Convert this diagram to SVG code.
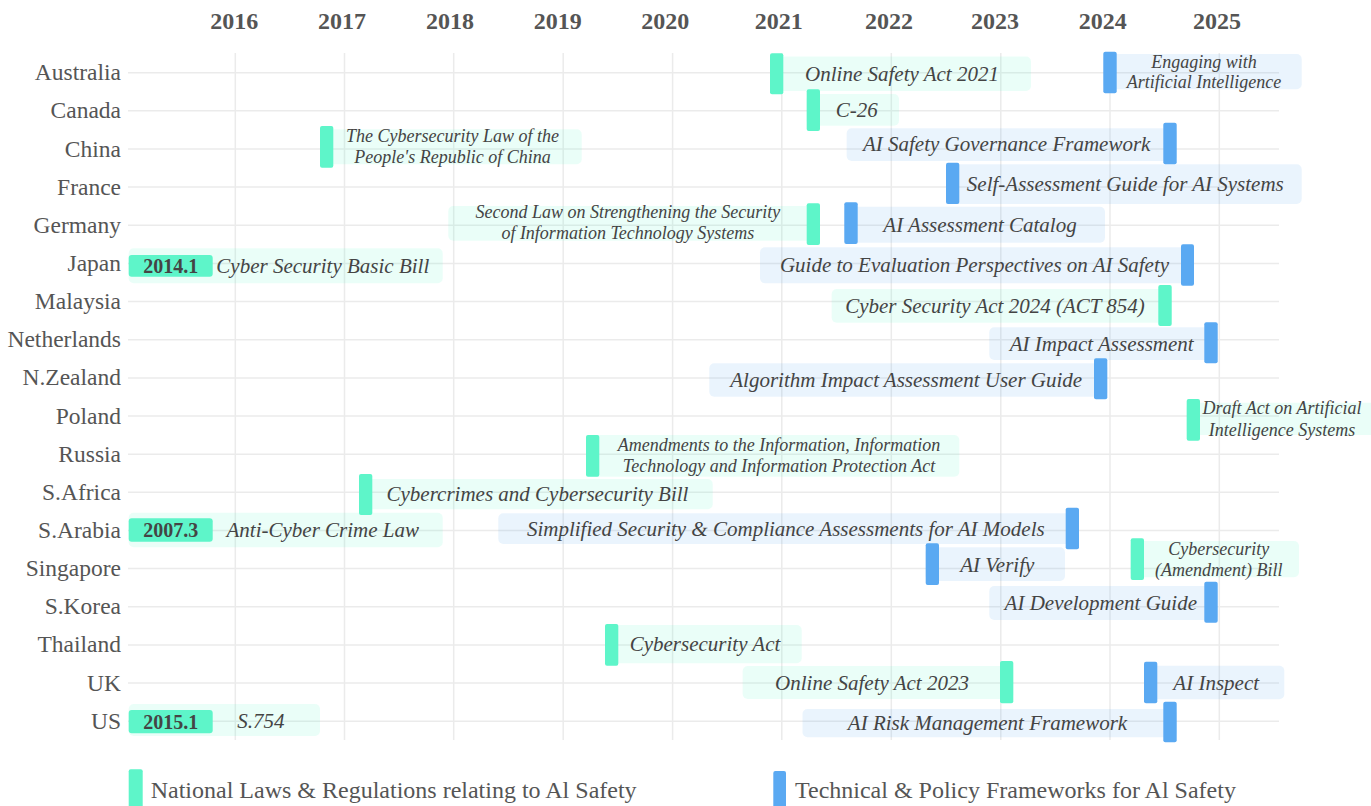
<svg xmlns="http://www.w3.org/2000/svg" width="1371" height="806" viewBox="0 0 1371 806">
<style>
.grid{stroke:#ebebeb;stroke-width:1.5;fill:none}
.gm{fill:#5ef5c9}
.bm{fill:#5aa9f2}
.gb{fill:#5ef5c9;fill-opacity:0.13}
.bb{fill:#5aa9f2;fill-opacity:0.13}
.t{font-family:"Liberation Serif","Times New Roman",serif;font-style:italic;font-size:21px;fill:#444;text-anchor:middle}
.t2{font-size:18px}
.yr{font-family:"Liberation Serif","Times New Roman",serif;font-weight:bold;font-size:24px;fill:#555;text-anchor:middle}
.cn{font-family:"Liberation Serif","Times New Roman",serif;font-size:23.5px;fill:#555;text-anchor:end}
.lb{font-family:"Liberation Serif","Times New Roman",serif;font-weight:bold;font-size:20px;fill:#444;text-anchor:middle}
.lg{font-family:"Liberation Serif","Times New Roman",serif;font-size:24px;fill:#555}
</style>
<rect width="1371" height="806" fill="#ffffff"/>
<g id="grid">
<g class="grid">
<line x1="235.3" y1="53" x2="235.3" y2="740"/>
<line x1="344.5" y1="53" x2="344.5" y2="740"/>
<line x1="453.7" y1="53" x2="453.7" y2="740"/>
<line x1="563.2" y1="53" x2="563.2" y2="740"/>
<line x1="672.6" y1="53" x2="672.6" y2="740"/>
<line x1="781.8" y1="53" x2="781.8" y2="740"/>
<line x1="891.3" y1="53" x2="891.3" y2="740"/>
<line x1="1000.8" y1="53" x2="1000.8" y2="740"/>
<line x1="1110" y1="53" x2="1110" y2="740"/>
<line x1="1219.3" y1="53" x2="1219.3" y2="740"/>
<line x1="128" y1="72.7" x2="1279" y2="72.7"/>
<line x1="128" y1="110.8" x2="1279" y2="110.8"/>
<line x1="128" y1="149" x2="1279" y2="149"/>
<line x1="128" y1="187.1" x2="1279" y2="187.1"/>
<line x1="128" y1="225.3" x2="1279" y2="225.3"/>
<line x1="128" y1="263.4" x2="1279" y2="263.4"/>
<line x1="128" y1="301.6" x2="1279" y2="301.6"/>
<line x1="128" y1="339.7" x2="1279" y2="339.7"/>
<line x1="128" y1="377.9" x2="1279" y2="377.9"/>
<line x1="128" y1="416" x2="1279" y2="416"/>
<line x1="128" y1="454.2" x2="1279" y2="454.2"/>
<line x1="128" y1="492.3" x2="1279" y2="492.3"/>
<line x1="128" y1="530.5" x2="1279" y2="530.5"/>
<line x1="128" y1="568.6" x2="1279" y2="568.6"/>
<line x1="128" y1="606.8" x2="1279" y2="606.8"/>
<line x1="128" y1="644.9" x2="1279" y2="644.9"/>
<line x1="128" y1="683.1" x2="1279" y2="683.1"/>
<line x1="128" y1="721.3" x2="1279" y2="721.3"/>
</g>
</g>
<g id="years">
<text class="yr" x="234.2" y="29">2016</text>
<text class="yr" x="342" y="29">2017</text>
<text class="yr" x="450" y="29">2018</text>
<text class="yr" x="557.7" y="29">2019</text>
<text class="yr" x="665.3" y="29">2020</text>
<text class="yr" x="778.7" y="29">2021</text>
<text class="yr" x="889" y="29">2022</text>
<text class="yr" x="995" y="29">2023</text>
<text class="yr" x="1102.7" y="29">2024</text>
<text class="yr" x="1217" y="29">2025</text>
</g>
<g id="countries">
<text class="cn" x="121" y="80.2">Australia</text>
<text class="cn" x="121" y="118.3">Canada</text>
<text class="cn" x="121" y="156.5">China</text>
<text class="cn" x="121" y="194.6">France</text>
<text class="cn" x="121" y="232.8">Germany</text>
<text class="cn" x="121" y="271">Japan</text>
<text class="cn" x="121" y="309.1">Malaysia</text>
<text class="cn" x="121" y="347.2">Netherlands</text>
<text class="cn" x="121" y="385.4">N.Zealand</text>
<text class="cn" x="121" y="423.5">Poland</text>
<text class="cn" x="121" y="461.7">Russia</text>
<text class="cn" x="121" y="499.8">S.Africa</text>
<text class="cn" x="121" y="538">S.Arabia</text>
<text class="cn" x="121" y="576.1">Singapore</text>
<text class="cn" x="121" y="614.3">S.Korea</text>
<text class="cn" x="121" y="652.4">Thailand</text>
<text class="cn" x="121" y="690.6">UK</text>
<text class="cn" x="121" y="728.8">US</text>
</g>
<g id="australia-law">
<rect class="gb" x="770" y="56.5" width="261" height="34.5" rx="5"/>
<rect class="gm" x="770" y="53.3" width="13.3" height="41" rx="2"/>
<text class="t" x="902" y="80.5">Online Safety Act 2021</text>
</g>
<g id="australia-framework">
<rect class="bb" x="1103.3" y="54" width="198.4" height="35.3" rx="5"/>
<rect class="bm" x="1103.3" y="51.7" width="13.4" height="41.6" rx="2"/>
<text class="t t2" x="1204" y="67.5">Engaging with</text>
<text class="t t2" x="1204" y="88">Artificial Intelligence</text>
</g>
<g id="canada-law">
<rect class="gb" x="806.7" y="94" width="92.3" height="31.7" rx="5"/>
<rect class="gm" x="806.7" y="89.3" width="13.3" height="41.7" rx="2"/>
<text class="t" x="856.7" y="117">C-26</text>
</g>
<g id="china-law">
<rect class="gb" x="320" y="129.3" width="261.7" height="35" rx="5"/>
<rect class="gm" x="320" y="126" width="13.3" height="41.7" rx="2"/>
<text class="t t2" x="452.5" y="142.3">The Cybersecurity Law of the</text>
<text class="t t2" x="452.5" y="163.3">People's Republic of China</text>
</g>
<g id="china-framework">
<rect class="bb" x="846.7" y="128.3" width="330" height="32.7" rx="5"/>
<rect class="bm" x="1163.3" y="122.7" width="13.4" height="41.6" rx="2"/>
<text class="t" x="1006.7" y="151">AI Safety Governance Framework</text>
</g>
<g id="france-framework">
<rect class="bb" x="946" y="164.3" width="355.7" height="39.7" rx="5"/>
<rect class="bm" x="946" y="162.7" width="13.3" height="41.3" rx="2"/>
<text class="t" x="1125.3" y="191">Self-Assessment Guide for AI Systems</text>
</g>
<g id="germany-law">
<rect class="gb" x="448.3" y="206" width="371.7" height="34.7" rx="5"/>
<rect class="gm" x="806.7" y="203.3" width="13.3" height="41.7" rx="2"/>
<text class="t t2" x="627.8" y="218.3">Second Law on Strengthening the Security</text>
<text class="t t2" x="627.8" y="239.3">of Information Technology Systems</text>
</g>
<g id="germany-framework">
<rect class="bb" x="844.3" y="206.7" width="260.7" height="36" rx="5"/>
<rect class="bm" x="844.3" y="202.3" width="13.4" height="41.7" rx="2"/>
<text class="t" x="980" y="231.5">AI Assessment Catalog</text>
</g>
<g id="japan-law">
<rect class="gb" x="128.7" y="248.3" width="314" height="35" rx="5"/>
<rect class="gm" x="128.7" y="255" width="84" height="21.7" rx="3"/>
<text class="lb" x="170.7" y="272.5">2014.1</text>
<text class="t" x="322.8" y="272.5">Cyber Security Basic Bill</text>
</g>
<g id="japan-framework">
<rect class="bb" x="760" y="247.3" width="434" height="36" rx="5"/>
<rect class="bm" x="1181" y="244.3" width="13" height="41.4" rx="2"/>
<text class="t" x="974.5" y="272.3">Guide to Evaluation Perspectives on AI Safety</text>
</g>
<g id="malaysia-law">
<rect class="gb" x="831.7" y="289" width="340" height="33.7" rx="5"/>
<rect class="gm" x="1158.3" y="285" width="13.4" height="41" rx="2"/>
<text class="t" x="995" y="312.8">Cyber Security Act 2024 (ACT 854)</text>
</g>
<g id="netherlands-framework">
<rect class="bb" x="989.3" y="327.3" width="228.4" height="32.7" rx="5"/>
<rect class="bm" x="1204.3" y="322.3" width="13.4" height="41" rx="2"/>
<text class="t" x="1101.7" y="350.5">AI Impact Assessment</text>
</g>
<g id="nzealand-framework">
<rect class="bb" x="709.3" y="363.3" width="398" height="33.4" rx="5"/>
<rect class="bm" x="1094" y="358.3" width="13.3" height="41" rx="2"/>
<text class="t" x="906.2" y="387">Algorithm Impact Assessment User Guide</text>
</g>
<g id="poland-law">
<rect class="gb" x="1186.7" y="402.7" width="190" height="32.3" rx="5"/>
<rect class="gm" x="1186.7" y="399" width="13.3" height="41.7" rx="2"/>
<text class="t t2" x="1282" y="414">Draft Act on Artificial</text>
<text class="t t2" x="1282" y="435.5">Intelligence Systems</text>
</g>
<g id="russia-law">
<rect class="gb" x="586" y="435" width="373.3" height="41.7" rx="5"/>
<rect class="gm" x="586" y="435" width="13.3" height="41.7" rx="2"/>
<text class="t t2" x="779" y="451">Amendments to the Information, Information</text>
<text class="t t2" x="779" y="472.3">Technology and Information Protection Act</text>
</g>
<g id="safrica-law">
<rect class="gb" x="359" y="479" width="353.7" height="30.3" rx="5"/>
<rect class="gm" x="359" y="474" width="13.3" height="41" rx="2"/>
<text class="t" x="537.5" y="501">Cybercrimes and Cybersecurity Bill</text>
</g>
<g id="sarabia-law">
<rect class="gb" x="128.7" y="512.7" width="314" height="34.6" rx="5"/>
<rect class="gm" x="128.7" y="518.3" width="84" height="23.4" rx="3"/>
<text class="lb" x="170.7" y="536.7">2007.3</text>
<text class="t" x="322.8" y="536.7">Anti-Cyber Crime Law</text>
</g>
<g id="sarabia-framework">
<rect class="bb" x="498.3" y="513.3" width="580.7" height="30.7" rx="5"/>
<rect class="bm" x="1065.7" y="507.7" width="13.3" height="41.5" rx="2"/>
<text class="t" x="785.8" y="535.5">Simplified Security &amp; Compliance Assessments for AI Models</text>
</g>
<g id="singapore-framework">
<rect class="bb" x="925.7" y="547.3" width="139.3" height="33.7" rx="5"/>
<rect class="bm" x="925.7" y="543.3" width="13.3" height="41.7" rx="2"/>
<text class="t" x="997.3" y="571.7">AI Verify</text>
</g>
<g id="singapore-law">
<rect class="gb" x="1130.7" y="541" width="168.3" height="36.3" rx="5"/>
<rect class="gm" x="1130.7" y="538.3" width="13.3" height="41.7" rx="2"/>
<text class="t t2" x="1218.7" y="555">Cybersecurity</text>
<text class="t t2" x="1218.7" y="575.7">(Amendment) Bill</text>
</g>
<g id="skorea-framework">
<rect class="bb" x="989.3" y="586" width="228.4" height="34" rx="5"/>
<rect class="bm" x="1204.3" y="581.7" width="13.4" height="41" rx="2"/>
<text class="t" x="1100.8" y="610">AI Development Guide</text>
</g>
<g id="thailand-law">
<rect class="gb" x="605" y="625" width="196.7" height="38.3" rx="5"/>
<rect class="gm" x="605" y="624" width="13.3" height="41.7" rx="2"/>
<text class="t" x="705" y="651">Cybersecurity Act</text>
</g>
<g id="uk-law">
<rect class="gb" x="742.7" y="666" width="270.6" height="33" rx="5"/>
<rect class="gm" x="1000" y="661" width="13.3" height="42.3" rx="2"/>
<text class="t" x="872" y="690">Online Safety Act 2023</text>
</g>
<g id="uk-framework">
<rect class="bb" x="1144" y="665.7" width="140.3" height="33.6" rx="5"/>
<rect class="bm" x="1144" y="661.7" width="13.3" height="41.6" rx="2"/>
<text class="t" x="1216.2" y="690">AI Inspect</text>
</g>
<g id="us-law">
<rect class="gb" x="128.7" y="704" width="191.3" height="32" rx="5"/>
<rect class="gm" x="128.7" y="710" width="84" height="23.3" rx="3"/>
<text class="lb" x="170.7" y="729">2015.1</text>
<text class="t" x="260.8" y="727.7">S.754</text>
</g>
<g id="us-framework">
<rect class="bb" x="802.5" y="709" width="374.2" height="28.3" rx="5"/>
<rect class="bm" x="1163.3" y="701.7" width="13.4" height="40.6" rx="2"/>
<text class="t" x="987.5" y="730">AI Risk Management Framework</text>
</g>
<g id="legend">
<rect class="gm" x="128.7" y="769.3" width="14" height="45" rx="2"/>
<text class="lg" x="150.7" y="798.3">National Laws &amp; Regulations relating to Al Safety</text>
<rect class="bm" x="773.3" y="771" width="12.7" height="45" rx="2"/>
<text class="lg" x="795" y="798.3">Technical &amp; Policy Frameworks for Al Safety</text>
</g>
</svg>
